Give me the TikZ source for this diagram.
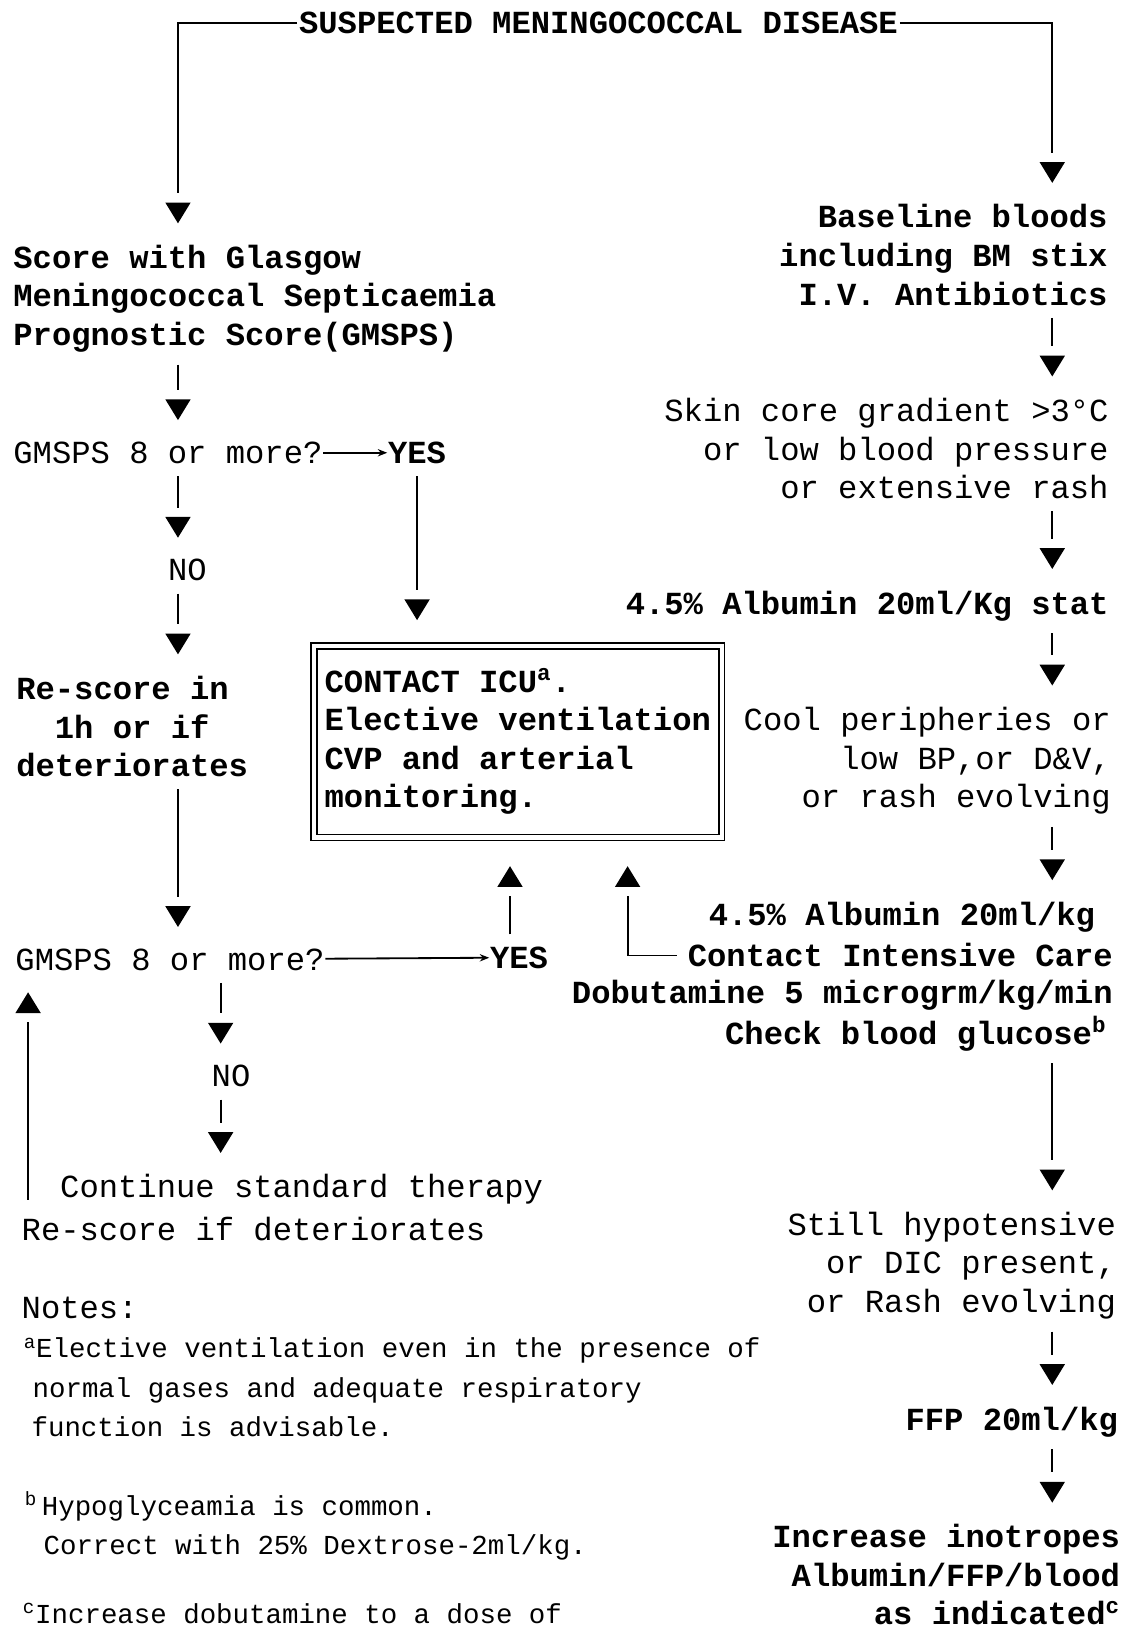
\documentclass[tikz,border=0pt]{standalone}
\usepackage{fontspec}
\setmainfont{Liberation Mono}
\usetikzlibrary{arrows.meta,decorations.markings}

\begin{document}
\begin{tikzpicture}[x=0.02cm, y=-0.02cm, line width=1pt,
  txt/.style={inner sep=0pt, font=\fontsize{17.6}{21.1}\selectfont},
  btxt/.style={inner sep=0pt, font=\fontsize{17.6}{21.1}\selectfont\bfseries},
  ntxt/.style={inner sep=0pt, font=\fontsize{15}{21.6}\selectfont},
  icubox/.style={btxt, draw, double, line width=0.8pt, double distance=2.4pt,
    minimum width=7.84cm, minimum height=3.68cm, align=left},
  flow/.style={shorten <=0.22cm, shorten >=#1+0.58cm,
    postaction={decorate, decoration={markings,
      mark=at position -#1 with {\arrow{Triangle[width=0.48cm,length=0.4cm]}}}}},
  flow/.default=0.4cm,
  small/.style={-{Stealth[width=0.14cm,length=0.18cm]}}]
\useasboundingbox (0,0) rectangle (1081,1568);
% columns of the connectors
\coordinate (colL) at (171,0);
\coordinate (colN) at (212,0);
\coordinate (colF) at (27,0);
\coordinate (colY) at (490,0);
\coordinate (colE) at (603,0);
\coordinate (colR) at (1011,0);

\node (title) at (575,22) [btxt] {SUSPECTED MENINGOCOCCAL DISEASE};

% left column
\node (score) at (12,287) [btxt, anchor=west, align=left] {Score with Glasgow\\Meningococcal Septicaemia\\Prognostic Score(GMSPS)};
\node  (gms1) at (12,435) [txt, anchor=west] {GMSPS 8 or more?};
\node  (yes1) at (372,435) [btxt, anchor=west] {YES};
\node   (no1) at (180,548) [txt] {NO};
\node  (resc) at (127,698) [btxt, align=center] {Re-score in\hphantom{x}\\1h or if\\deteriorates};
\node  (gms2) at (14,922) [txt, anchor=west] {GMSPS 8 or more?};
\node  (yes2) at (470,920) [btxt, anchor=west] {YES};
\node   (no2) at (222,1034) [txt] {NO};
\node  (cont) at (57,1143) [txt, anchor=west] {Continue standard therapy};
\node (resc2) at (20,1181) [txt, anchor=west] {Re-score if deteriorates};

\node (icu) at (497.5,712.5) [icubox] {CONTACT ICU\textsuperscript{a}.\\Elective ventilation\\CVP and arterial\\monitoring.};

% right column
\node  (bloods) at (1065,245) [btxt, anchor=east, align=right] {Baseline bloods\\including BM stix\\I.V. Antibiotics};
\node    (skin) at (1066,431) [txt, anchor=east, align=right] {Skin core gradient >3°C\\or low blood pressure\\or extensive rash};
\node    (alb1) at (1066,582) [btxt, anchor=east] {4.5\% Albumin 20ml/Kg stat};
\node    (cool) at (1068,731) [txt, anchor=east, align=right] {Cool peripheries or\\low BP,or D\&V,\\or rash evolving};
\node    (alb2) at (1053,881) [btxt, anchor=east] {4.5\% Albumin 20ml/kg};
\node (contact) at (1070,918) [btxt, anchor=east] {Contact Intensive Care};
\node   (dobut) at (1070,956) [btxt, anchor=east] {Dobutamine 5 microgrm/kg/min};
\node    (gluc) at (1064,993) [btxt, anchor=east] {Check blood glucose\textsuperscript{b}};
\node   (still) at (1073,1216) [txt, anchor=east, align=right] {Still hypotensive\\or DIC present,\\or Rash evolving};
\node     (ffp) at (1075,1366) [btxt, anchor=east] {FFP 20ml/kg};
\node    (incr) at (1077,1513) [btxt, anchor=east, align=right] {Increase inotropes\\Albumin/FFP/blood\\as indicated\textsuperscript{c}};

% notes
\node (notes) at (20,1257) [txt, anchor=west] {Notes:};
\node (notea) at (22,1333) [ntxt, anchor=west, align=left] {\textsuperscript{a}Elective ventilation even in the presence of\\\hspace*{0.17cm}normal gases and adequate respiratory\\\hspace*{0.15cm}function is advisable.};
\node (noteb) at (23,1466) [ntxt, anchor=west, align=left] {\textsuperscript{b}\,Hypoglyceamia is common.\\\hspace*{0.36cm}Correct with 25\% Dextrose-2ml/kg.};
\node (notec) at (21,1550) [ntxt, anchor=west] {\textsuperscript{c}Increase dobutamine to a dose of};

\draw [flow, shorten <=0.02cm] (title.west) -| (score.north -| colL);
\draw [flow, shorten <=0.02cm] (title.east) -| (bloods.north -| colR);
\draw [flow] (score.south -| colL) -- (gms1.north -| colL);
\draw [small] (gms1) -- (yes1);
\draw [flow] (gms1.south -| colL) -- (no1.north -| colL);
\draw [flow] (no1.south -| colL) -- (resc.north -| colL);
\draw [flow=0.48cm] (yes1) -- (yes1 |- icu.north);
\draw [flow] (resc.south -| colL) -- (gms2.north -| colL);
\draw [small] (gms2) -- (yes2);
\draw [flow=0.54cm] (yes2.north -| colY) -- (icu.south -| colY);
\draw [flow] (gms2.south -| colN) -- (no2.north -| colN);
\draw [flow] (no2.south -| colN) -- (cont.north -| colN);
\draw [flow, shorten <=0.32cm] (resc2.north -| colF) -- (gms2.south -| colF);
\draw [flow=0.54cm, shorten <=0.2cm] (contact.west) -| (icu.south -| colE);
\draw [flow] (bloods.south -| colR) -- (skin.north -| colR);
\draw [flow] (skin.south -| colR) -- (alb1.north -| colR);
\draw [flow] (alb1.south -| colR) -- (cool.north -| colR);
\draw [flow] (cool.south -| colR) -- (alb2.north -| colR);
\draw [flow] (gluc.south -| colR) -- (still.north -| colR);
\draw [flow] (still.south -| colR) -- (ffp.north -| colR);
\draw [flow] (ffp.south -| colR) -- (incr.north -| colR);
\end{tikzpicture}
\end{document}
